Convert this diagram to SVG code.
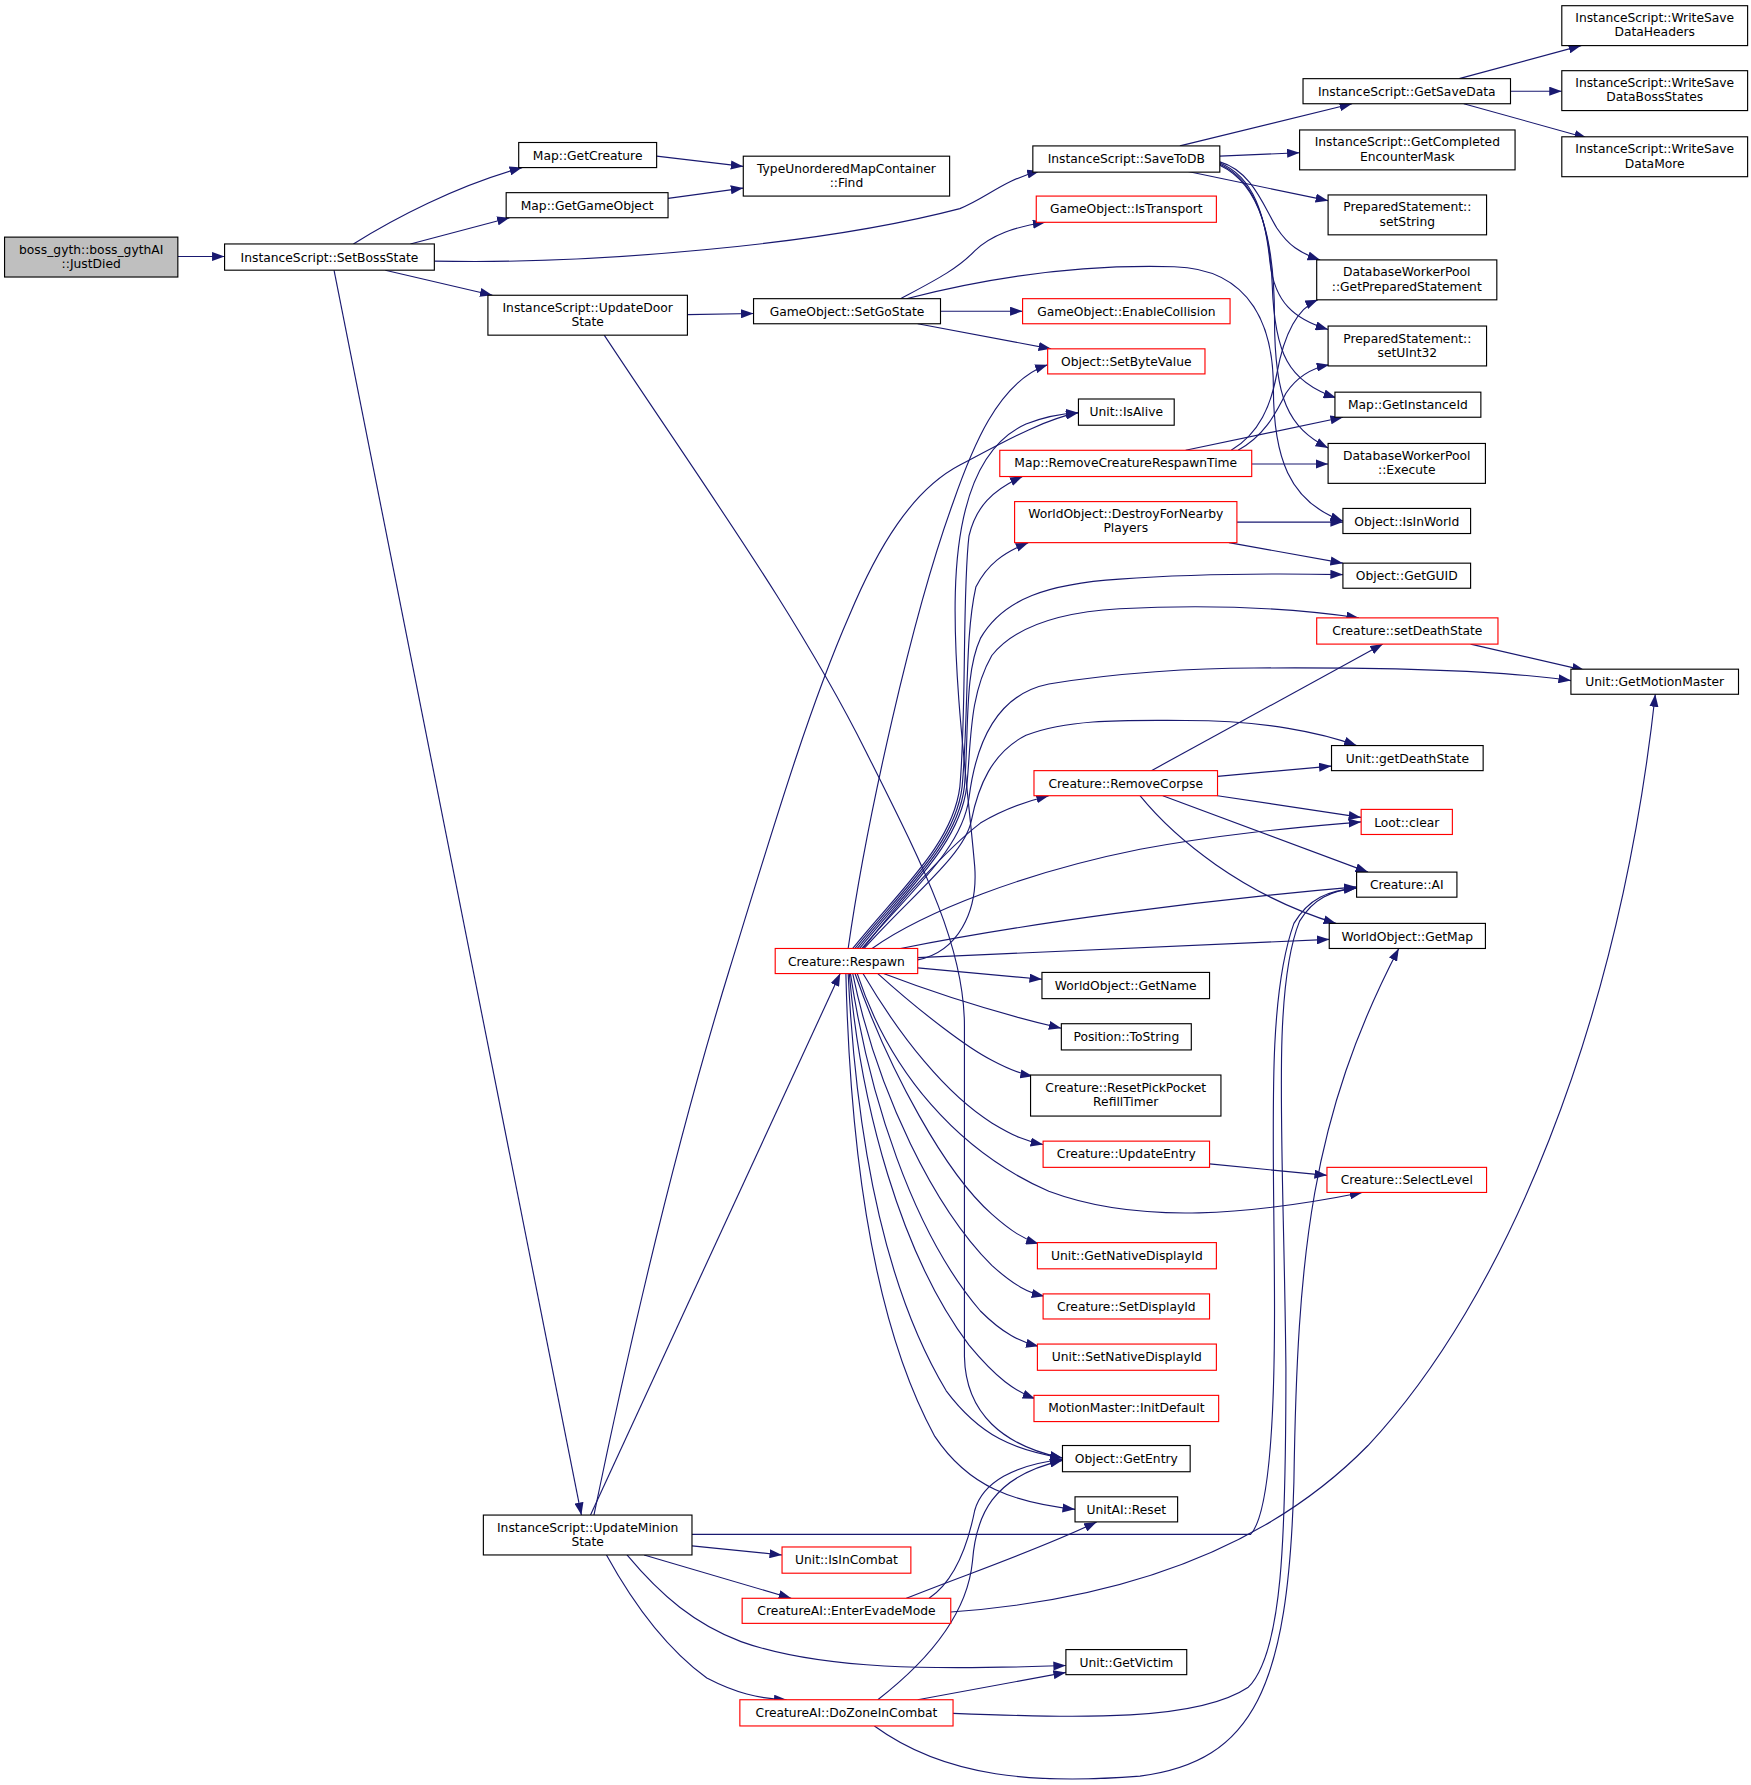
<svg xmlns="http://www.w3.org/2000/svg" width="1751" height="1785" viewBox="0 0 1751 1785">
<style>
.e{fill:none;stroke:#191970;stroke-width:1;marker-end:url(#a)}
.n rect{fill:#fff;stroke:#000;stroke-width:1}
.r rect{stroke:#ff0000}
.g rect{fill:#bfbfbf}
text{font-family:"DejaVu Sans","Liberation Sans",sans-serif;font-size:10.8px;text-anchor:middle;fill:#000}
</style>
<defs>
<marker id="a" viewBox="0 0 11 8" refX="11" refY="4" markerWidth="11" markerHeight="8" markerUnits="userSpaceOnUse" orient="auto"><path d="M0,0 L11,4 L0,8 z" fill="#191970"/></marker>
</defs>
<rect width="1751" height="1785" fill="#fff"/>
<g transform="scale(1.14)">
<g id="edges">
<path class="e" d="M156,225 L197,225"/>
<path class="e" d="M310,214 C345,192 400,163 458,147"/>
<path class="e" d="M360,214 L447,191"/>
<path class="e" d="M381,229 C520,232 720,215 842,183 C865,174 880,158 912,150"/>
<path class="e" d="M338,237 L432,259"/>
<path class="e" d="M293,237 L510,1329"/>
<path class="e" d="M576,137 L652,146"/>
<path class="e" d="M586,174 L652,165"/>
<path class="e" d="M1035,128 L1186,91"/>
<path class="e" d="M1070,137 L1140,134"/>
<path class="e" d="M1040,150 L1165,176"/>
<path class="e" d="M1070,142 C1098,150 1108,180 1120,200 C1130,215 1140,222 1158,228"/>
<path class="e" d="M1070,143 C1100,155 1110,190 1114,230 C1118,265 1135,280 1165,289"/>
<path class="e" d="M1070,144 C1102,158 1114,200 1116,250 C1118,310 1130,335 1172,349"/>
<path class="e" d="M1070,145 C1106,162 1118,210 1118,280 C1118,350 1130,375 1165,393"/>
<path class="e" d="M1280,69 L1387,40"/>
<path class="e" d="M1325,80 L1370,80"/>
<path class="e" d="M1284,91 L1392,121"/>
<path class="e" d="M603,276 L661,275"/>
<path class="e" d="M530,294 C620,430 700,540 760,660 C810,760 846,830 846,900 L846,1190 C847,1240 880,1268 932,1279"/>
<path class="e" d="M790,262 C820,246 840,236 855,220 C870,206 890,199 917,195"/>
<path class="e" d="M795,262 C880,240 960,232 1030,234 C1100,236 1117,290 1117,340 C1117,400 1130,440 1178,457"/>
<path class="e" d="M825,273 L897,273"/>
<path class="e" d="M805,284 L922,306"/>
<path class="e" d="M1098,407 L1165,407"/>
<path class="e" d="M1040,395 L1178,366"/>
<path class="e" d="M1080,395 C1105,380 1115,355 1120,328 C1125,300 1135,272 1156,263"/>
<path class="e" d="M1086,395 C1108,383 1118,365 1128,345 C1138,330 1150,323 1166,320"/>
<path class="e" d="M1085,458 L1178,458"/>
<path class="e" d="M1078,476 L1178,494"/>
<path class="e" d="M1290,565 L1390,588"/>
<path class="e" d="M1010,676 L1213,565"/>
<path class="e" d="M1068,681 L1168,672"/>
<path class="e" d="M1068,698 L1194,717"/>
<path class="e" d="M1020,698 L1200,765"/>
<path class="e" d="M1000,698 C1030,735 1090,785 1172,810"/>
<path class="e" d="M744,832 C760,720 800,540 836,441 C852,395 875,335 919,320"/>
<path class="e" d="M805,842 C840,835 858,800 855,760 C850,700 836,600 838,520 C840,440 860,390 900,372 C915,366 930,363 946,362"/>
<path class="e" d="M748,832 C790,780 836,740 842,690 C848,620 844,520 850,470 C856,445 870,430 897,418"/>
<path class="e" d="M750,832 C792,780 838,740 844,690 C850,620 846,560 856,515 C866,495 880,485 902,476"/>
<path class="e" d="M752,832 C794,780 840,740 846,690 C850,640 846,590 860,560 C880,525 920,512 982,508 C1050,503 1120,503 1178,504"/>
<path class="e" d="M754,832 C796,780 842,740 848,690 C852,650 850,610 870,575 C890,550 930,537 982,534 C1060,530 1130,533 1192,542"/>
<path class="e" d="M756,832 C798,782 844,745 850,700 C855,660 870,610 920,600 C980,590 1050,586 1100,586 C1250,585 1330,590 1378,597"/>
<path class="e" d="M758,832 C800,785 846,750 852,720 C858,690 870,660 900,645 C940,630 990,632 1040,632 C1110,632 1160,643 1190,654"/>
<path class="e" d="M757,832 C790,790 830,745 860,722 C880,710 900,703 920,698"/>
<path class="e" d="M765,832 C810,800 900,765 1000,745 C1080,730 1150,725 1194,721"/>
<path class="e" d="M790,832 C900,810 1050,790 1190,778"/>
<path class="e" d="M805,840 L1166,824"/>
<path class="e" d="M805,849 L914,859"/>
<path class="e" d="M775,854 C830,875 880,890 931,902"/>
<path class="e" d="M770,854 C810,890 850,920 870,930 C885,938 895,942 906,944"/>
<path class="e" d="M757,854 C790,910 830,960 870,985 C890,997 900,1001 915,1004"/>
<path class="e" d="M752,854 C780,940 840,1010 920,1045 C1000,1075 1100,1065 1195,1046"/>
<path class="e" d="M750,854 C780,940 830,1030 870,1065 C887,1080 898,1087 911,1091"/>
<path class="e" d="M748,854 C770,960 820,1060 870,1110 C890,1128 902,1134 916,1137"/>
<path class="e" d="M746,854 C762,960 800,1080 860,1150 C880,1170 895,1177 911,1181"/>
<path class="e" d="M745,854 C755,970 790,1100 850,1180 C875,1210 890,1220 908,1227"/>
<path class="e" d="M744,854 C750,980 770,1120 830,1220 C860,1260 890,1272 932,1279"/>
<path class="e" d="M742,854 C745,980 760,1150 820,1260 C850,1305 890,1318 943,1324"/>
<path class="e" d="M518,1329 L737,854"/>
<path class="e" d="M521,1329 C560,1140 600,980 640,850 C680,720 710,620 745,540 C770,480 800,430 842,408 C880,388 915,368 946,362"/>
<path class="e" d="M607,1346 L1097,1346 C1112,1330 1118,1260 1118,1150 C1118,1000 1110,880 1135,810 C1148,788 1165,781 1190,779"/>
<path class="e" d="M607,1356 L686,1364"/>
<path class="e" d="M565,1364 L694,1402"/>
<path class="e" d="M550,1364 C580,1400 610,1425 650,1440 C720,1465 820,1465 935,1461"/>
<path class="e" d="M532,1364 C560,1415 590,1450 620,1472 C645,1485 665,1490 690,1491"/>
<path class="e" d="M815,1402 C840,1385 850,1350 855,1325 C862,1300 890,1285 932,1280"/>
<path class="e" d="M795,1402 C850,1380 910,1360 962,1335"/>
<path class="e" d="M834,1414 C960,1405 1100,1370 1200,1268 C1320,1140 1420,900 1452,609"/>
<path class="e" d="M770,1491 C810,1460 848,1420 853,1370 C856,1330 870,1295 932,1281"/>
<path class="e" d="M805,1491 L935,1467"/>
<path class="e" d="M836,1503 C950,1507 1050,1510 1095,1480 C1125,1450 1128,1350 1128,1200 C1126,1000 1115,870 1140,808 C1152,788 1168,781 1190,779"/>
<path class="e" d="M767,1514 C830,1560 910,1565 1000,1558 C1100,1545 1130,1480 1135,1300 C1138,1100 1150,980 1227,832"/>
<path class="e" d="M1061,1021 L1164,1031"/>
</g>
<g id="n_boss" class="n g"><rect x="4" y="208" width="152" height="35"/><text x="80" y="222.5">boss_gyth::boss_gythAI</text><text x="80" y="235">::JustDied</text></g>
<g id="n_setBossState" class="n"><rect x="197" y="214" width="184" height="23"/><text x="289" y="229.5">InstanceScript::SetBossState</text></g>
<g id="n_getCreature" class="n"><rect x="455" y="125" width="121" height="22"/><text x="515.5" y="140">Map::GetCreature</text></g>
<g id="n_getGameObject" class="n"><rect x="444" y="169" width="142" height="22"/><text x="515" y="184">Map::GetGameObject</text></g>
<g id="n_find" class="n"><rect x="652" y="137" width="181" height="35"/><text x="742.5" y="151.5">TypeUnorderedMapContainer</text><text x="742.5" y="164">::Find</text></g>
<g id="n_saveToDB" class="n"><rect x="906" y="128" width="164" height="23"/><text x="988" y="143">InstanceScript::SaveToDB</text></g>
<g id="n_updateDoorState" class="n"><rect x="428" y="259" width="175" height="35"/><text x="515.5" y="273.5">InstanceScript::UpdateDoor</text><text x="515.5" y="286">State</text></g>
<g id="n_updateMinionState" class="n"><rect x="424" y="1329" width="183" height="35"/><text x="515.5" y="1343.5">InstanceScript::UpdateMinion</text><text x="515.5" y="1356">State</text></g>
<g id="n_getSaveData" class="n"><rect x="1143" y="69" width="182" height="22"/><text x="1234" y="84">InstanceScript::GetSaveData</text></g>
<g id="n_wsHeaders" class="n"><rect x="1370" y="5" width="163" height="35"/><text x="1451.5" y="19.5">InstanceScript::WriteSave</text><text x="1451.5" y="32">DataHeaders</text></g>
<g id="n_wsBossStates" class="n"><rect x="1370" y="62" width="163" height="35"/><text x="1451.5" y="76.5">InstanceScript::WriteSave</text><text x="1451.5" y="89">DataBossStates</text></g>
<g id="n_wsMore" class="n"><rect x="1370" y="120" width="163" height="35"/><text x="1451.5" y="134.5">InstanceScript::WriteSave</text><text x="1451.5" y="147">DataMore</text></g>
<g id="n_getCompleted" class="n"><rect x="1140" y="114" width="189" height="35"/><text x="1234.5" y="128.5">InstanceScript::GetCompleted</text><text x="1234.5" y="141">EncounterMask</text></g>
<g id="n_setString" class="n"><rect x="1165" y="171" width="139" height="35"/><text x="1234.5" y="185.5">PreparedStatement::</text><text x="1234.5" y="198">setString</text></g>
<g id="n_getPrepared" class="n"><rect x="1155" y="228" width="158" height="35"/><text x="1234" y="242.5">DatabaseWorkerPool</text><text x="1234" y="255">::GetPreparedStatement</text></g>
<g id="n_setUInt32" class="n"><rect x="1165" y="286" width="139" height="35"/><text x="1234.5" y="300.5">PreparedStatement::</text><text x="1234.5" y="313">setUInt32</text></g>
<g id="n_getInstanceId" class="n"><rect x="1171" y="344" width="128" height="22"/><text x="1235" y="359">Map::GetInstanceId</text></g>
<g id="n_execute" class="n"><rect x="1165" y="389" width="138" height="35"/><text x="1234" y="403.5">DatabaseWorkerPool</text><text x="1234" y="416">::Execute</text></g>
<g id="n_isInWorld" class="n"><rect x="1178" y="446" width="112" height="22"/><text x="1234" y="461">Object::IsInWorld</text></g>
<g id="n_getGUID" class="n"><rect x="1178" y="494" width="112" height="22"/><text x="1234" y="509">Object::GetGUID</text></g>
<g id="n_setDeathState" class="n r"><rect x="1155" y="542" width="159" height="23"/><text x="1234.5" y="557">Creature::setDeathState</text></g>
<g id="n_getMotionMaster" class="n"><rect x="1378" y="587" width="147" height="22"/><text x="1451.5" y="602">Unit::GetMotionMaster</text></g>
<g id="n_getDeathState" class="n"><rect x="1168" y="654" width="133" height="22"/><text x="1234.5" y="669">Unit::getDeathState</text></g>
<g id="n_lootClear" class="n r"><rect x="1194" y="710" width="80" height="22"/><text x="1234" y="725">Loot::clear</text></g>
<g id="n_creatureAI" class="n"><rect x="1190" y="765" width="88" height="22"/><text x="1234" y="780">Creature::AI</text></g>
<g id="n_getMap" class="n"><rect x="1166" y="810" width="137" height="22"/><text x="1234.5" y="825">WorldObject::GetMap</text></g>
<g id="n_selectLevel" class="n r"><rect x="1164" y="1024" width="140" height="22"/><text x="1234" y="1039">Creature::SelectLevel</text></g>
<g id="n_isTransport" class="n r"><rect x="909" y="172" width="158" height="23"/><text x="988" y="187">GameObject::IsTransport</text></g>
<g id="n_setGoState" class="n"><rect x="661" y="262" width="164" height="22"/><text x="743" y="277">GameObject::SetGoState</text></g>
<g id="n_enableCollision" class="n r"><rect x="897" y="262" width="182" height="22"/><text x="988" y="277">GameObject::EnableCollision</text></g>
<g id="n_setByteValue" class="n r"><rect x="919" y="306" width="138" height="22"/><text x="988" y="321">Object::SetByteValue</text></g>
<g id="n_isAlive" class="n"><rect x="946" y="350" width="84" height="23"/><text x="988" y="365">Unit::IsAlive</text></g>
<g id="n_removeRespawn" class="n r"><rect x="877" y="395" width="221" height="23"/><text x="987.5" y="410">Map::RemoveCreatureRespawnTime</text></g>
<g id="n_destroy" class="n r"><rect x="890" y="440" width="195" height="36"/><text x="987.5" y="454.5">WorldObject::DestroyForNearby</text><text x="987.5" y="467">Players</text></g>
<g id="n_removeCorpse" class="n r"><rect x="907" y="676" width="161" height="22"/><text x="987.5" y="691">Creature::RemoveCorpse</text></g>
<g id="n_respawn" class="n r"><rect x="680" y="832" width="125" height="22"/><text x="742.5" y="847">Creature::Respawn</text></g>
<g id="n_getName" class="n"><rect x="914" y="853" width="147" height="23"/><text x="987.5" y="868">WorldObject::GetName</text></g>
<g id="n_toString" class="n"><rect x="931" y="898" width="114" height="23"/><text x="988" y="913">Position::ToString</text></g>
<g id="n_resetPick" class="n"><rect x="904" y="943" width="167" height="36"/><text x="987.5" y="957.5">Creature::ResetPickPocket</text><text x="987.5" y="970">RefillTimer</text></g>
<g id="n_updateEntry" class="n r"><rect x="915" y="1001" width="146" height="23"/><text x="988" y="1016">Creature::UpdateEntry</text></g>
<g id="n_getNativeDisplayId" class="n r"><rect x="910" y="1090" width="157" height="23"/><text x="988.5" y="1105">Unit::GetNativeDisplayId</text></g>
<g id="n_setDisplayId" class="n r"><rect x="915" y="1135" width="146" height="22"/><text x="988" y="1150">Creature::SetDisplayId</text></g>
<g id="n_setNativeDisplayId" class="n r"><rect x="910" y="1179" width="157" height="23"/><text x="988.5" y="1194">Unit::SetNativeDisplayId</text></g>
<g id="n_initDefault" class="n r"><rect x="907" y="1224" width="162" height="23"/><text x="988" y="1239">MotionMaster::InitDefault</text></g>
<g id="n_getEntry" class="n"><rect x="932" y="1268" width="112" height="23"/><text x="988" y="1283">Object::GetEntry</text></g>
<g id="n_unitAIReset" class="n"><rect x="943" y="1313" width="90" height="22"/><text x="988" y="1328">UnitAI::Reset</text></g>
<g id="n_isInCombat" class="n r"><rect x="686" y="1357" width="113" height="23"/><text x="742.5" y="1372">Unit::IsInCombat</text></g>
<g id="n_enterEvade" class="n r"><rect x="651" y="1402" width="183" height="22"/><text x="742.5" y="1417">CreatureAI::EnterEvadeMode</text></g>
<g id="n_getVictim" class="n"><rect x="935" y="1447" width="106" height="22"/><text x="988" y="1462">Unit::GetVictim</text></g>
<g id="n_doZone" class="n r"><rect x="649" y="1491" width="187" height="23"/><text x="742.5" y="1506">CreatureAI::DoZoneInCombat</text></g>
</g>
</svg>
